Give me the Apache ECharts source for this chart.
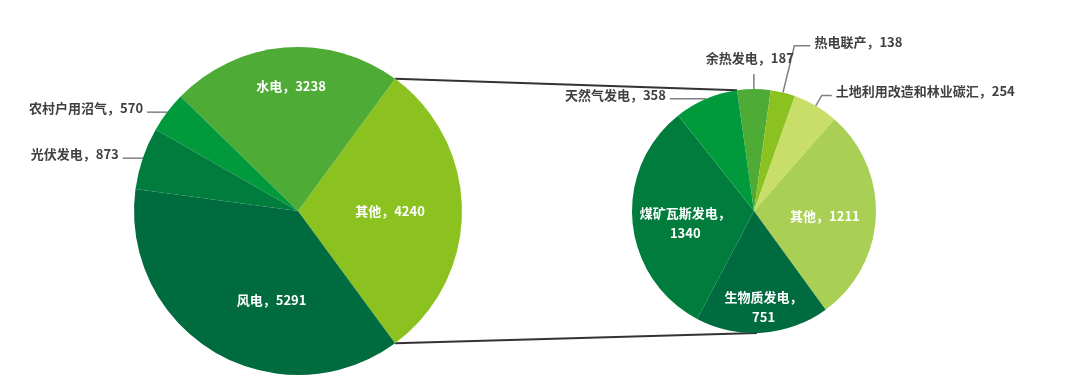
<!DOCTYPE html>
<html>
<head>
<meta charset="utf-8">
<script src="https://cdn.jsdelivr.net/npm/echarts@6/dist/echarts.min.js"></script>
<style>
  html, body { margin: 0; background: #fff; }
  #chart { width: 1080px; height: 388px; }
</style>
</head>
<body>
<div id="chart"></div>
<script>
// 左饼：碳减排来源
const mainNames = ['其他', '水电', '农村户用沼气', '光伏发电', '风电'];
const mainValues = [4240, 3238, 570, 873, 5291];
const mainColors = ['#8cc21f', '#4eab35', '#009a3d', '#007d3c', '#006b3f'];

// 右饼："其他" 拆分
const subNames = ['余热发电', '热电联产', '土地利用改造和林业碳汇', '其他', '生物质发电', '煤矿瓦斯发电', '天然气发电'];
const subValues = [187, 138, 254, 1211, 751, 1340, 358];
const subColors = ['#4eab35', '#8cc21f', '#c8de68', '#a9cf54', '#006b3f', '#007d3c', '#009a3d'];

const font = '"Noto Sans CJK SC", "Noto Sans", sans-serif';
const mainCenter = [298, 211], mainR = 164;
const subCenter = [754, 211], subR = 122, subStart = 98;

// 饼外标签的引导线长度
const outsideLines = {
  '农村户用沼气': [0, 20],
  '光伏发电': [0, 20],
  '天然气发电': [0, 36],
  '余热发电': [15, 0],
  '热电联产': [48, 16],
  '土地利用改造和林业碳汇': [12, 10]
};
const aboveLabels = ['余热发电'];
const wrapLabels = ['生物质发电', '煤矿瓦斯发电'];
// 饼内标签微调
const mainShift = { '水电': [0, -40], '其他': [7, 0], '风电': [17, 16] };
const subShift = { '其他': [7, 2], '生物质发电': [5, 32], '煤矿瓦斯发电': [-5, 6] };

function buildData(names, values, colors) {
  return names.map((n, i) => {
    const item = { name: n, value: values[i], itemStyle: { color: colors[i] } };
    if (outsideLines[n]) {
      item.label = { position: 'outside', color: '#404040' };
      item.labelLine = { show: true, length: outsideLines[n][0], length2: outsideLines[n][1] };
    } else {
      item.labelLine = { show: false };
    }
    return item;
  });
}

function makeLayout(names, shifts) {
  return function (p) {
    const name = names[p.dataIndex];
    if (shifts[name]) {
      const r = p.labelRect;
      return {
        x: r.x + r.width / 2 + shifts[name][0],
        y: r.y + r.height / 2 + shifts[name][1],
        align: 'center', verticalAlign: 'middle'
      };
    }
    const pts = p.labelLinePoints;
    if (!outsideLines[name] || !pts) return;
    const end = pts[pts.length - 1];
    if (aboveLabels.indexOf(name) >= 0) {
      return { x: end[0] - 4, y: end[1] - 6, align: 'center', verticalAlign: 'bottom', labelLinePoints: pts };
    }
    const left = end[0] < pts[0][0];
    return {
      x: end[0] + (left ? -4 : 4), y: end[1] - 4,
      align: left ? 'right' : 'left', verticalAlign: 'middle', labelLinePoints: pts
    };
  };
}

const baseLabel = {
  position: 'inside',
  color: '#fff',
  fontSize: 13,
  fontWeight: 'bold',
  fontFamily: font,
  lineHeight: 20,
  formatter: p => wrapLabels.indexOf(p.name) >= 0 ? p.name + '，\n' + p.value : p.name + '，' + p.value
};

const mainTotal = mainValues.reduce((a, b) => a + b, 0);
const half = mainValues[0] / mainTotal * 180;
const mainStart = -half;

// 连接线
const ha = half * Math.PI / 180, sa = subStart * Math.PI / 180;
const p1 = [mainCenter[0] + mainR * Math.cos(ha), mainCenter[1] - mainR * Math.sin(ha)];
const p2 = [mainCenter[0] + mainR * Math.cos(ha), mainCenter[1] + mainR * Math.sin(ha)];
const q1 = [subCenter[0] + subR * Math.cos(sa), subCenter[1] - subR * Math.sin(sa)];
const q2 = [subCenter[0] + 3, subCenter[1] + subR];

const chart = echarts.init(document.getElementById('chart'));
chart.setOption({
  backgroundColor: '#fff',
  animation: false,
  graphic: [
    { type: 'line', z: 0, shape: { x1: p1[0], y1: p1[1], x2: q1[0], y2: q1[1] }, style: { stroke: '#333', lineWidth: 2 } },
    { type: 'line', z: 0, shape: { x1: p2[0], y1: p2[1], x2: q2[0], y2: q2[1] }, style: { stroke: '#333', lineWidth: 2 } }
  ],
  series: [
    {
      type: 'pie',
      center: mainCenter,
      radius: mainR,
      startAngle: mainStart,
      clockwise: false,
      avoidLabelOverlap: false,
      emphasis: { scale: false },
      label: baseLabel,
      labelLine: { lineStyle: { color: '#808080', width: 1.5 } },
      labelLayout: makeLayout(mainNames, mainShift),
      data: buildData(mainNames, mainValues, mainColors)
    },
    {
      type: 'pie',
      center: subCenter,
      radius: subR,
      startAngle: subStart,
      clockwise: true,
      avoidLabelOverlap: false,
      emphasis: { scale: false },
      label: baseLabel,
      labelLine: { lineStyle: { color: '#808080', width: 1.5 } },
      labelLayout: makeLayout(subNames, subShift),
      data: buildData(subNames, subValues, subColors)
    }
  ]
});
</script>
</body>
</html>
